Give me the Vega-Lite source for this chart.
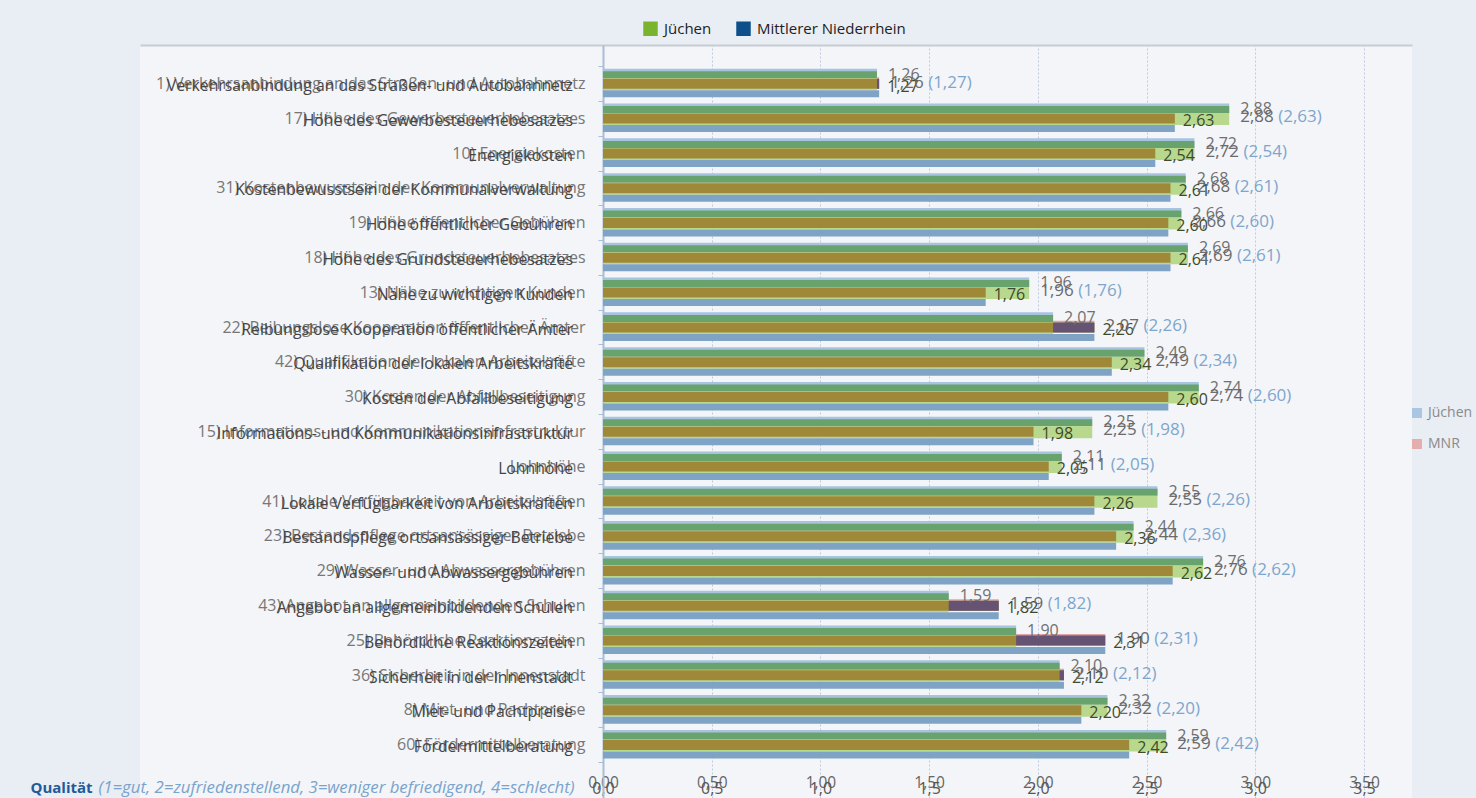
{
  "$schema": "https://vega.github.io/schema/vega-lite/v6.json",
  "width": 1272,
  "height": 753,
  "autosize": {"type": "none"},
  "padding": {"left": 140, "top": 45, "right": 64, "bottom": 0},
  "background": "#e9edf4",
  "config": {
    "font": "Open Sans",
    "view": {"fill": "#f3f5f9", "stroke": null},
    "locale": {"number": {"decimal": ",", "thousands": ".", "grouping": [3], "currency": ["(", ")"]}}
  },
  "data": {"values": [
    {"k": "1) Verkehrsanbindung an das Straßen- und Autobahnnetz", "name": "Verkehrsanbindung an das Straßen- und Autobahnnetz", "J": 1.26, "M": 1.27},
    {"k": "17) Höhe des Gewerbesteuerhebesatzes", "name": "Höhe des Gewerbesteuerhebesatzes", "J": 2.88, "M": 2.63},
    {"k": "10) Energiekosten", "name": "Energiekosten", "J": 2.72, "M": 2.54},
    {"k": "31) Kostenbewusstsein der Kommunalverwaltung", "name": "Kostenbewusstsein der Kommunalverwaltung", "J": 2.68, "M": 2.61},
    {"k": "19) Höhe öffentlicher Gebühren", "name": "Höhe öffentlicher Gebühren", "J": 2.66, "M": 2.60},
    {"k": "18) Höhe des Grundsteuerhebesatzes", "name": "Höhe des Grundsteuerhebesatzes", "J": 2.69, "M": 2.61},
    {"k": "13) Nähe zu wichtigen Kunden", "name": "Nähe zu wichtigen Kunden", "J": 1.96, "M": 1.76},
    {"k": "22) Reibungslose Kooperation öffentlicher Ämter", "name": "Reibungslose Kooperation öffentlicher Ämter", "J": 2.07, "M": 2.26},
    {"k": "42) Qualifikation der lokalen Arbeitskräfte", "name": "Qualifikation der lokalen Arbeitskräfte", "J": 2.49, "M": 2.34},
    {"k": "30) Kosten der Abfallbeseitigung", "name": "Kosten der Abfallbeseitigung", "J": 2.74, "M": 2.60},
    {"k": "15) Informations- und Kommunikationsinfrastruktur", "name": "Informations- und Kommunikationsinfrastruktur", "J": 2.25, "M": 1.98},
    {"k": "Lohnhöhe", "name": "Lohnhöhe", "J": 2.11, "M": 2.05},
    {"k": "41) Lokale Verfügbarkeit von Arbeitskräften", "name": "Lokale Verfügbarkeit von Arbeitskräften", "J": 2.55, "M": 2.26},
    {"k": "23) Bestandspflege ortsansässiger Betriebe", "name": "Bestandspflege ortsansässiger Betriebe", "J": 2.44, "M": 2.36},
    {"k": "29) Wasser- und Abwassergebühren", "name": "Wasser- und Abwassergebühren", "J": 2.76, "M": 2.62},
    {"k": "43) Angebot an allgemeinbildenden Schulen", "name": "Angebot an allgemeinbildenden Schulen", "J": 1.59, "M": 1.82},
    {"k": "25) Behördliche Reaktionszeiten", "name": "Behördliche Reaktionszeiten", "J": 1.90, "M": 2.31},
    {"k": "36) Sicherheit in der Innenstadt", "name": "Sicherheit in der Innenstadt", "J": 2.10, "M": 2.12},
    {"k": "8) Miet- und Pachtpreise", "name": "Miet- und Pachtpreise", "J": 2.32, "M": 2.20},
    {"k": "60) Fördermittelberatung", "name": "Fördermittelberatung", "J": 2.59, "M": 2.42}
  ]},
  "encoding": {
    "y": {
      "field": "k", "type": "nominal", "sort": null,
      "scale": {"paddingInner": 0, "paddingOuter": 0.82, "align": 0.37},
      "axis": {
        "orient": "left", "offset": -463, "title": null,
        "labelFontSize": 16, "labelColor": "#777777", "labelPadding": 13, "labelOffset": 0, "labelLimit": 700,
        "domainColor": "#a9bdd6", "domainWidth": 2,
        "ticks": true, "tickBand": "extent", "tickColor": "#a9bdd6", "tickSize": 5
      }
    }
  },
  "layer": [
    {
      "mark": {"type": "bar", "size": 9.5, "yOffset": -10, "color": "#a7c3df"},
      "encoding": {"x": {"field": "J", "type": "quantitative",
        "scale": {"domain": [-2.1294, 3.7207], "nice": false, "zero": false},
        "axis": {"orient": "bottom", "offset": -42, "values": [0, 0.5, 1, 1.5, 2, 2.5, 3, 3.5], "format": ".2f",
          "domain": false, "ticks": false, "grid": true, "gridDash": [2, 2], "gridColor": "#bfcbdc",
          "labelFontSize": 15.5, "labelColor": "#666", "labelPadding": 19,
          "title": "Qualität", "titleX": -110, "titleY": 31, "titleAlign": "left", "titleBaseline": "middle",
          "titleFontWeight": "bold", "titleColor": "#1f5a99", "titleFontSize": 15}}}
    },
    {
      "mark": {"type": "bar", "size": 1.5, "yOffset": -5.5, "color": "#e3a3a6"},
      "encoding": {"x": {"field": "M", "type": "quantitative",
        "axis": {"orient": "bottom", "offset": -42, "values": [0, 0.5, 1, 1.5, 2, 2.5, 3, 3.5], "format": ".1f",
          "domain": false, "ticks": false, "grid": false,
          "labelFontSize": 16, "labelColor": "#555", "labelPadding": 24,
          "title": "(1=gut, 2=zufriedenstellend, 3=weniger befriedigend, 4=schlecht)", "titleX": -42, "titleY": 31,
          "titleAlign": "left", "titleBaseline": "middle", "titleFontStyle": "italic", "titleFontWeight": "normal",
          "titleColor": "#7aa3cc", "titleFontSize": 16.8}}}
    },
    {
      "mark": {"type": "bar", "size": 7, "yOffset": -8.7, "color": "#68a36d"},
      "encoding": {"x": {"field": "J", "type": "quantitative", "axis": null}}
    },
    {
      "mark": {"type": "bar", "size": 12, "yOffset": 0.8, "color": "#b8d98d"},
      "encoding": {"x": {"field": "J", "type": "quantitative", "axis": null}}
    },
    {
      "mark": {"type": "bar", "size": 7, "yOffset": 10.3, "color": "#7ea3c4"},
      "encoding": {"x": {"field": "M", "type": "quantitative",
        "axis": {"orient": "top", "labels": false, "ticks": false, "grid": false, "domain": true,
          "domainColor": "#c8ccd2", "domainWidth": 2, "title": null}}}
    },
    {
      "mark": {"type": "bar", "size": 10, "yOffset": 0.3, "color": "#a08839"},
      "encoding": {"x": {"field": "M", "type": "quantitative", "axis": null}}
    },
    {
      "transform": [{"filter": "datum.M > datum.J"}],
      "mark": {"type": "bar", "size": 10, "yOffset": 0.3, "color": "#665273"},
      "encoding": {"x": {"field": "J", "type": "quantitative", "axis": null}, "x2": {"field": "M"}}
    },
    {
      "mark": {"type": "text", "align": "left", "baseline": "middle", "dx": 11, "yOffset": -9, "fontSize": 16, "color": "#707070"},
      "encoding": {"x": {"field": "J", "type": "quantitative", "axis": null}, "text": {"field": "J", "format": ".2f"}}
    },
    {
      "mark": {"type": "text", "align": "left", "baseline": "middle", "dx": 8, "yOffset": 3, "fontSize": 16, "color": "#3d4a2c"},
      "encoding": {"x": {"field": "M", "type": "quantitative", "axis": null}, "text": {"field": "M", "format": ".2f"}}
    },
    {
      "transform": [{"filter": "datum.J >= datum.M"}],
      "mark": {"type": "text", "align": "left", "baseline": "middle", "dx": 11, "yOffset": -1, "fontSize": 17, "color": "#6a6a6a"},
      "encoding": {"x": {"field": "J", "type": "quantitative", "axis": null}, "text": {"field": "J", "format": ".2f"}}
    },
    {
      "transform": [{"filter": "datum.J >= datum.M"}],
      "mark": {"type": "text", "align": "left", "baseline": "middle", "dx": 49, "yOffset": -1, "fontSize": 17, "color": "#7ea6cc"},
      "encoding": {"x": {"field": "J", "type": "quantitative", "axis": null}, "text": {"field": "M", "format": "$.2f"}}
    },
    {
      "transform": [{"filter": "datum.M > datum.J"}],
      "mark": {"type": "text", "align": "left", "baseline": "middle", "dx": 11, "yOffset": -1, "fontSize": 17, "color": "#6a6a6a"},
      "encoding": {"x": {"field": "M", "type": "quantitative", "axis": null}, "text": {"field": "J", "format": ".2f"}}
    },
    {
      "transform": [{"filter": "datum.M > datum.J"}],
      "mark": {"type": "text", "align": "left", "baseline": "middle", "dx": 49, "yOffset": -1, "fontSize": 17, "color": "#7ea6cc"},
      "encoding": {"x": {"field": "M", "type": "quantitative", "axis": null}, "text": {"field": "M", "format": "$.2f"}}
    },
    {
      "mark": {"type": "text", "align": "right", "baseline": "middle", "dx": -30, "yOffset": 2.5, "fontSize": 15.8, "color": "#454545"},
      "encoding": {"x": {"datum": 0, "type": "quantitative", "axis": null}, "text": {"field": "name"}}
    },
    {
      "transform": [{"filter": "false"}],
      "mark": {"type": "square", "opacity": 1, "filled": true},
      "encoding": {
        "x": {"field": "J", "type": "quantitative", "axis": null},
        "color": {"datum": "Jüchen", "type": "nominal",
          "scale": {"domain": ["Jüchen", "Mittlerer Niederrhein"], "range": ["#7ab32e", "#0d4f8a"]},
          "legend": {"orient": "none", "legendX": 503, "legendY": -24, "direction": "horizontal", "title": null,
            "symbolType": "square", "symbolSize": 210, "symbolStrokeWidth": 0, "symbolOpacity": 1, "labelFontSize": 15, "labelColor": "#222",
            "columnPadding": 24, "labelOffset": 6, "padding": 0}}
      }
    },
    {
      "transform": [{"filter": "false"}],
      "mark": {"type": "square", "opacity": 1, "filled": true},
      "encoding": {
        "x": {"field": "J", "type": "quantitative", "axis": null},
        "color": {"datum": "Jüchen", "type": "nominal",
          "scale": {"domain": ["Jüchen", "MNR"], "range": ["#aac6e2", "#e5aeae"]},
          "legend": {"orient": "none", "legendX": 1270, "legendY": 361, "direction": "vertical", "title": null,
            "symbolType": "square", "symbolSize": 100, "symbolStrokeWidth": 0, "symbolOpacity": 1, "labelFontSize": 14, "labelColor": "#8a8a8a",
            "rowPadding": 17, "labelOffset": 4, "padding": 0}}
      }
    }
  ],
  "resolve": {"scale": {"color": "independent"}, "axis": {"x": "independent"}}
}
